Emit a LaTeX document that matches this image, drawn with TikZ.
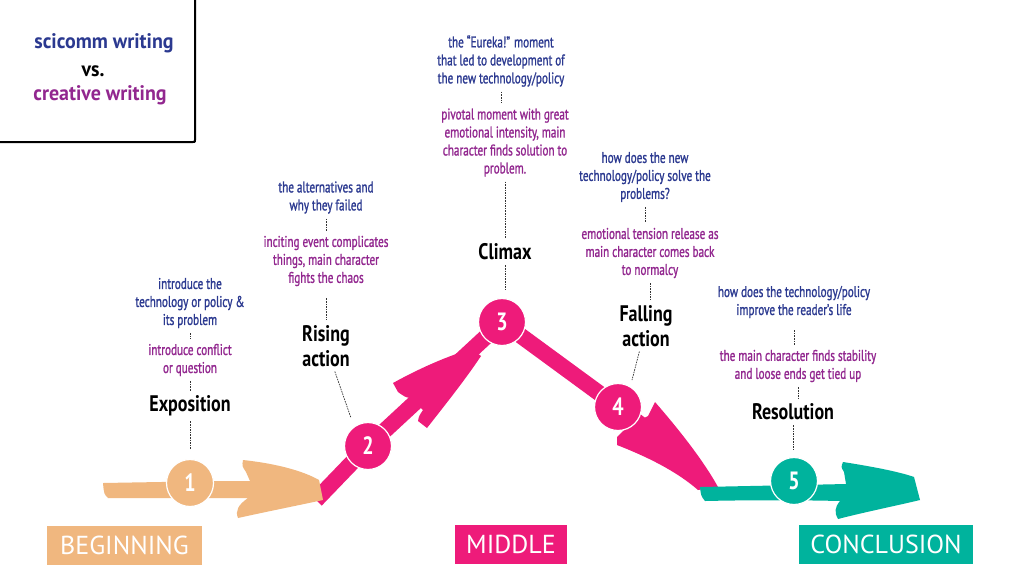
\documentclass[tikz,border=0pt]{standalone}
\usepackage{fontspec}
\setmainfont{PT Sans}
\newfontfamily\cond{PT Sans}[FakeStretch=0.8]
\newfontfamily\condm{PT Sans}[FakeStretch=0.72, FakeBold=1.2]
\newfontfamily\headfont{PT Sans}[FakeStretch=0.95]
\newfontfamily\labfont{PT Sans}
\definecolor{sciblue}{RGB}{43,57,144}
\definecolor{crpurple}{RGB}{146,39,143}
\definecolor{pinkc}{RGB}{238,27,122}
\definecolor{peachc}{RGB}{240,183,127}
\definecolor{tealc}{RGB}{0,179,157}
\tikzset{
  bluetxt/.style={text=sciblue, font=\condm\fontsize{15.5}{18}\selectfont, align=center, inner sep=2pt},
  purptxt/.style={text=crpurple, font=\condm\fontsize{15.5}{18}\selectfont, align=center, inner sep=2pt},
  titletxt/.style={text=black, font=\cond\bfseries\fontsize{22.5}{24.5}\selectfont, align=center, inner sep=2pt},
  headtxt/.style={font=\headfont\bfseries\fontsize{21}{24}\selectfont, inner sep=0pt},
  dl/.style={draw=black!80, line width=0.7pt, dash pattern=on 1.6pt off 1pt, shorten <=3pt, shorten >=3pt},
  circ/.style={circle, minimum size=47pt, inner sep=0pt, draw=white, line width=1.2pt, text=white, font=\cond\bfseries\fontsize{25}{28}\selectfont},
  labelbox/.style={text=white, font=\labfont\fontsize{26}{28}\selectfont, minimum height=39pt, inner sep=0pt}
}
\begin{document}
\begin{tikzpicture}[x=1pt,y=-1pt]
\useasboundingbox (0,0) rectangle (1024,576);
\fill[white] (0,0) rectangle (1024,576);

% top-left box
\draw[line width=2pt, line join=round] (-5,142) -- (193,142) .. controls (195,142) .. (195,140) -- (195,-5);
\node[headtxt, text=sciblue] (sci) at (104,43) {scicomm writing};
\node[headtxt, text=black] (vs) at (93,71) {vs.};
\node[headtxt, text=crpurple] (cre) at (100,95) {creative writing};

% pink rising shaft
\draw[pinkc, line width=16pt] (316,500) -- (367,447) -- (502,322);
% pink rising head
\fill[pinkc] (393,383) .. controls (420,368) and (450,355) .. (472,349) -- (481,356)
  .. controls (465,380) and (445,405) .. (427,428) -- (418,421) .. controls (419,416) .. (423,410)
  -- (410,398) .. controls (405,397) .. (398,392) -- cycle;
% pink falling shaft
\draw[pinkc, line width=16pt] (502,322) -- (618,407) -- (640,424);
% pink falling head
\fill[pinkc] (655,402) .. controls (675,425) and (702,458) .. (718,487) -- (698,490)
  .. controls (675,470) and (645,456) .. (617,445) -- (617,437) -- (626,428)
  -- (640,420) -- (648,416) -- cycle;

% peach arrow
\fill[peachc] (103,483) .. controls (160,482) and (215,481) .. (250,481) -- (246,472)
  .. controls (242,466) .. (243,460) .. controls (280,464) and (305,472) .. (319,480)
  -- (323,500) .. controls (295,506) and (265,512) .. (238,518) .. controls (235,511) and (238,505) .. (248,498)
  .. controls (200,498) and (150,498) .. (108,498) .. controls (104,494) .. cycle;

% teal arrow
\fill[tealc] (700,487) .. controls (750,486) and (800,485) .. (846,484) -- (844,472)
  .. controls (841,467) .. (843,462) .. controls (875,467) and (900,472) .. (914,477)
  -- (920,500) .. controls (895,506) and (865,512) .. (838,519) .. controls (834,512) and (835,507) .. (840,501)
  .. controls (800,500) and (750,500) .. (705,501) .. controls (701,496) .. cycle;

% circles
\node[circ, fill=peachc] (n1) at (190,483) {1};
\node[circ, fill=pinkc] (n2) at (368,446) {2};
\node[circ, fill=pinkc] (n3) at (502,322) {3};
\node[circ, fill=pinkc] (n4) at (618,407) {4};
\node[circ, fill=tealc] (n5) at (794,481) {5};

% Exposition column
\node[bluetxt] (exB) at (190,303) {introduce the\\technology or policy \&\\its problem};
\node[purptxt] (exP) at (190,360) {introduce conflict\\or question};
\node[titletxt] (expo) at (190,406) {Exposition};
\draw[dl] (exB.south) -- (exB.south |- exP.north);
\draw[dl] (exP.south) -- (exP.south |- expo.north);
\draw[dl, shorten >=10pt] (expo.south) -- (expo.south |- n1.north);

% Rising column
\node[bluetxt] (riB) at (326,197.5) {the alternatives and\\why they failed};
\node[purptxt] (riP) at (326,261) {inciting event complicates\\things, main character\\fights the chaos};
\node[titletxt] (rising) at (326,346) {Rising\\action};
\coordinate (c2p) at (351,418);
\draw[dl] (riB.south) -- (riB.south |- riP.north);
\draw[dl, shorten <=10pt] (riP.south) -- (riP.south |- rising.north);
\draw[dl, shorten >=0pt] (rising) -- (c2p);

% Climax column
\node[bluetxt] (clB) at (501,61) {the “Eureka!” moment\\that led to development of\\the new technology/policy};
\node[purptxt] (clP) at (505,142.5) {pivotal moment with great\\emotional intensity, main\\character finds solution to\\problem.};
\node[titletxt] (climax) at (505,252) {Climax};
\draw[dl] (clB.south) -- (clB.south |- clP.north);
\draw[dl] (clP.south) -- (clP.south |- climax.north);
\draw[dl, shorten >=8pt] (climax.south) -- (climax.south |- n3.north);

% Falling column
\node[bluetxt] (faB) at (645,177) {how does the new\\technology/policy solve the\\problems?};
\node[purptxt] (faP) at (650,253) {emotional tension release as\\main character comes back\\to normalcy};
\node[titletxt] (falling) at (646,326) {Falling\\action};
\coordinate (c4p) at (632,380);
\draw[dl] (faB.south) -- (faB.south |- faP.north);
\draw[dl] (faP.south) -- (faP.south |- falling.north);
\draw[dl, shorten >=0pt] (falling) -- (c4p);

% Resolution column
\node[bluetxt] (reB) at (794,302) {how does the technology/policy\\improve the reader’s life};
\node[purptxt] (reP) at (798,366) {the main character finds stability\\and loose ends get tied up};
\node[titletxt] (resol) at (793,412) {Resolution};
\draw[dl, shorten <=10pt] (reB.south) -- (reB.south |- reP.north);
\draw[dl] (reP.south) -- (reP.south |- resol.north);
\draw[dl, shorten >=6pt] (resol.south) -- (resol.south |- n5.north);

% bottom labels
\node[labelbox, fill=peachc, minimum width=155pt] (beg) at (124.5,545.5) {BEGINNING};
\node[labelbox, fill=pinkc, minimum width=112pt] (mid) at (511,544) {MIDDLE};
\node[labelbox, fill=tealc, minimum width=174pt] (con) at (886,544.5) {CONCLUSION};
\end{tikzpicture}
\end{document}
